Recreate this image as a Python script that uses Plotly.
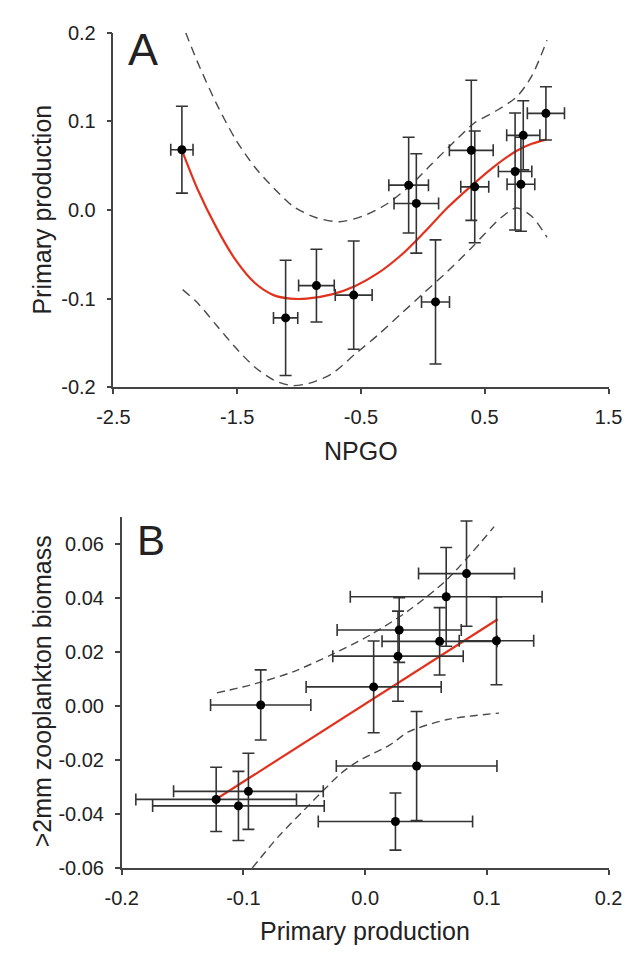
import plotly.graph_objects as go

# ---------------- Panel A data (NPGO vs primary production) ----------------
a_x = [-1.947, -1.109, -0.860, -0.559, -0.115, -0.053, 0.102, 0.391, 0.419, 0.745, 0.811, 0.792, 0.994]
a_y = [0.068, -0.1217, -0.0853, -0.096, 0.028, 0.0074, -0.1037, 0.0673, 0.0261, 0.0434, 0.0842, 0.029, 0.109]
a_xerr = [0.09, 0.098, 0.144, 0.149, 0.16, 0.18, 0.113, 0.177, 0.113, 0.135, 0.134, 0.112, 0.15]
a_yerr = [0.049, 0.065, 0.041, 0.061, 0.054, 0.056, 0.070, 0.079, 0.063, 0.066, 0.039, 0.053, 0.030]

a_fit_x = [-1.94, -1.823, -1.668, -1.512, -1.357, -1.202, -1.07, -0.938, -0.736, -0.550, -0.363, -0.177,
           0.009, 0.196, 0.382, 0.568, 0.755, 0.879, 0.994]
a_fit_y = [0.065, 0.0243, -0.0199, -0.0566, -0.0824, -0.0963, -0.1, -0.100, -0.0952, -0.086, -0.0713, -0.0511,
           -0.0254, 0.0022, 0.0261, 0.0482, 0.0665, 0.0746, 0.0794]

a_up_x = [-1.916, -1.823, -1.668, -1.512, -1.357, -1.202, -1.047, -0.860, -0.674, -0.488, -0.301, -0.115,
          0.071, 0.258, 0.413, 0.600, 0.755, 0.879, 1.003]
a_up_y = [0.200, 0.1676, 0.120, 0.0794, 0.0482, 0.0243, 0.004, -0.0088, -0.0132, -0.007, 0.0059, 0.026,
          0.0518, 0.0776, 0.0978, 0.1125, 0.1272, 0.151, 0.1915]

a_lo_x = [-1.941, -1.823, -1.668, -1.512, -1.357, -1.202, -1.062, -0.922, -0.736, -0.550, -0.363, -0.177,
          0.009, 0.196, 0.382, 0.506, 0.630, 0.755, 0.879, 1.003]
a_lo_y = [-0.0898, -0.1044, -0.130, -0.1555, -0.1774, -0.192, -0.198, -0.1956, -0.1847, -0.1628, -0.141, -0.1172,
          -0.0934, -0.0697, -0.0442, -0.026, -0.0088, 0.0022, -0.007, -0.031]

a_xticks = [-2.5, -1.5, -0.5, 0.5, 1.5]
a_xtick_text = ["-2.5", "-1.5", "-0.5", "0.5", "1.5"]
a_yticks = [-0.2, -0.1, 0.0, 0.1, 0.2]
a_ytick_text = ["-0.2", "-0.1", "0.0", "0.1", "0.2"]

# ---------------- Panel B data (primary production vs zooplankton) ----------------
b_x = [-0.0858, 0.007, 0.028, 0.027, 0.0612, 0.1079, 0.0833, 0.0666, 0.0423, 0.0249, -0.1224, -0.1041, -0.0959]
b_y = [0.0004, 0.0071, 0.0282, 0.0185, 0.024, 0.0242, 0.0491, 0.0405, -0.0222, -0.0428, -0.0346, -0.0370, -0.0316]
b_xerr = [0.0412, 0.0555, 0.051, 0.0536, 0.0473, 0.0306, 0.0394, 0.0788, 0.066, 0.0634, 0.066, 0.0705, 0.0615]
b_yerr = [0.013, 0.017, 0.012, 0.0167, 0.0125, 0.0163, 0.0195, 0.0183, 0.0202, 0.0106, 0.0119, 0.0128, 0.0141]

b_fit_x = [-0.120, 0.109]
b_fit_y = [-0.0338, 0.0322]

b_up_x = [-0.1218, -0.0902, -0.0587, -0.0271, 0.0044, 0.036, 0.0675, 0.106]
b_up_y = [0.0049, 0.0083, 0.0128, 0.0192, 0.0264, 0.0355, 0.047, 0.0665]

b_lo_x = [-0.0927, -0.0711, -0.0503, -0.0346, -0.020, -0.006, 0.020, 0.036, 0.0675, 0.110]
b_lo_y = [-0.060, -0.0483, -0.0386, -0.0314, -0.025, -0.0205, -0.0145, -0.0095, -0.005, -0.0026]

b_xticks = [-0.2, -0.1, 0.0, 0.1, 0.2]
b_xtick_text = ["-0.2", "-0.1", "0.0", "0.1", "0.2"]
b_yticks = [-0.06, -0.04, -0.02, 0.0, 0.02, 0.04, 0.06]
b_ytick_text = ["-0.06", "-0.04", "-0.02", "0.00", "0.02", "0.04", "0.06"]

# ---------------- styling ----------------
W, H = 633, 953
FONT = "Liberation Sans, Arial, sans-serif"
TXT = "#222222"
AX = "#444444"
ERR = "#333333"
RED = "#e2321e"
DASH = "#4a4a4a"


def px(x):
    return x / W


def py(y):
    return 1 - y / H


fig = go.Figure()

def add_panel(xs, ys, xe, ye, fx, fy, ux, uy, lx, ly, xa, ya, dash):
    fig.add_trace(go.Scatter(x=ux, y=uy, mode="lines", xaxis=xa, yaxis=ya,
                             line=dict(color=DASH, width=1.4, dash=dash, shape="spline", smoothing=0.8),
                             hoverinfo="skip", showlegend=False))
    fig.add_trace(go.Scatter(x=lx, y=ly, mode="lines", xaxis=xa, yaxis=ya,
                             line=dict(color=DASH, width=1.4, dash=dash, shape="spline", smoothing=0.8),
                             hoverinfo="skip", showlegend=False))
    fig.add_trace(go.Scatter(x=fx, y=fy, mode="lines", xaxis=xa, yaxis=ya,
                             line=dict(color=RED, width=2.2, shape="spline", smoothing=0.8),
                             hoverinfo="skip", showlegend=False))
    fig.add_trace(go.Scatter(x=xs, y=ys, mode="markers", xaxis=xa, yaxis=ya,
                             marker=dict(color="black", size=9),
                             error_x=dict(type="data", array=xe, visible=True, color=ERR, thickness=1.6, width=6),
                             error_y=dict(type="data", array=ye, visible=True, color=ERR, thickness=1.6, width=6),
                             showlegend=False))

add_panel(a_x, a_y, a_xerr, a_yerr, a_fit_x, a_fit_y, a_up_x, a_up_y, a_lo_x, a_lo_y, "x", "y", "9px,6px")
add_panel(b_x, b_y, b_xerr, b_yerr, b_fit_x, b_fit_y, b_up_x, b_up_y, b_lo_x, b_lo_y, "x2", "y2", "8px,5px")

axis_common = dict(showgrid=False, zeroline=False, showline=True, linecolor=AX, linewidth=1.5,
                   ticks="outside", ticklen=5, tickwidth=1.5, tickcolor=AX,
                   tickfont=dict(family=FONT, size=20, color=TXT), mirror=False)

fig.update_layout(
    width=W, height=H, margin=dict(l=0, r=0, t=0, b=0),
    paper_bgcolor="white", plot_bgcolor="white", showlegend=False,
    xaxis=dict(domain=[px(93), px(613.6)], range=[-2.5, 1.5], anchor="y",
               tickvals=a_xticks, ticktext=a_xtick_text, ticklabelstandoff=6, **axis_common),
    yaxis=dict(domain=[py(377), py(14)], range=[-0.2, 0.2], anchor="x",
               tickvals=a_yticks, ticktext=a_ytick_text, ticklabelstandoff=7, **axis_common),
    xaxis2=dict(domain=[px(101.7), px(613.6)], range=[-0.2, 0.2], anchor="y2",
                tickvals=b_xticks, ticktext=b_xtick_text, ticklabelstandoff=6, **axis_common),
    yaxis2=dict(domain=[py(869), py(510)], range=[-0.06, 0.07], anchor="x2",
                tickvals=b_yticks, ticktext=b_ytick_text, ticklabelstandoff=7, **axis_common),
)

def label(text, x, y, size, angle=0, xanchor="center"):
    fig.add_annotation(text=text, x=px(x), y=py(y), xref="paper", yref="paper",
                       xanchor=xanchor, yanchor="middle", textangle=angle, showarrow=False,
                       font=dict(family=FONT, size=size, color=TXT))

label("A", 106, 31, 45, xanchor="left")
label("B", 116, 534, 42, xanchor="left")
label("Primary production", 18, 195, 25, angle=-90)
label("NPGO", 353, 442, 25)
label(">2mm zooplankton biomass", 18, 688, 25, angle=-90)
label("Primary production", 358, 934, 25)

fig.write_html("out.html")
